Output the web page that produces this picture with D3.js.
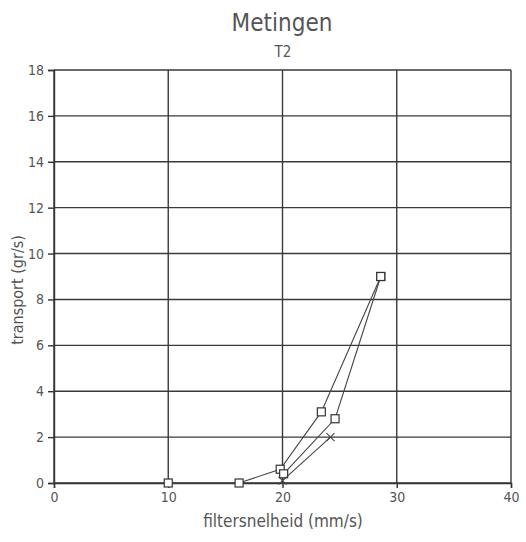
<!DOCTYPE html>
<html>
<head>
<meta charset="utf-8">
<script src="https://cdn.jsdelivr.net/npm/d3@7"></script>
<style>
  body { margin: 0; background: #fff; }
  text { font-family: "DejaVu Sans Condensed", "DejaVu Sans", sans-serif; font-stretch: condensed; font-weight: 300; fill: #555; }
</style>
</head>
<body>
<svg id="chart" width="526" height="542"></svg>
<script>
// data
var xTicks = [0, 10, 20, 30, 40];
var yTicks = [0, 2, 4, 6, 8, 10, 12, 14, 16, 18];
var serie1 = [[10, 0], [16.2, 0], [19.8, 0.6], [23.4, 3.1], [28.6, 9.0]];
var serie2 = [[20.1, 0.4], [24.6, 2.8], [28.6, 9.0]];
var serie3 = [[20, 0.1], [24.2, 2.0]];

var svg = d3.select("svg#chart");
var margin = { top: 70, right: 15, bottom: 59, left: 54 };
var width = +svg.attr("width") - margin.left - margin.right;
var height = +svg.attr("height") - margin.top - margin.bottom;
var g = svg.append("g").attr("transform", "translate(" + margin.left + "," + margin.top + ")");

var x = d3.scaleLinear().domain([0, 40]).range([0, width]);
var y = d3.scaleLinear().domain([0, 18]).range([height, 0]);

// Grid
g.append("g").selectAll("line").data(yTicks).enter().append("line")
    .attr("x1", 0).attr("x2", width)
    .attr("y1", (d) => y(d)).attr("y2", (d) => y(d))
    .attr("stroke", "#3a3a3a").attr("stroke-width", 1.4);
g.append("g").selectAll("line").data(xTicks).enter().append("line")
    .attr("y1", 0).attr("y2", height)
    .attr("x1", (d) => x(d)).attr("x2", (d) => x(d))
    .attr("stroke", "#3a3a3a").attr("stroke-width", 1.4);

// Axes
var xAxis = g.append("g")
    .attr("transform", "translate(0," + height + ")")
    .call(d3.axisBottom(x).tickValues(xTicks).tickSize(5).tickPadding(4));
var yAxis = g.append("g")
    .call(d3.axisLeft(y).tickValues(yTicks).tickSize(6).tickPadding(4));
[xAxis, yAxis].forEach(function(a) {
    a.select(".domain").attr("stroke", "#333").attr("stroke-width", 1.4);
    a.selectAll(".tick line").attr("stroke", "#333").attr("stroke-width", 1.4);
    a.selectAll(".tick text").style("font-size", "14px").attr("fill", "#555");
});

// Lines
var line = d3.line().x((d) => x(d[0])).y((d) => y(d[1]));
[serie1, serie2, serie3].forEach(function(s) {
    g.append("path").datum(s)
        .attr("d", line)
        .attr("fill", "none")
        .attr("stroke", "#444")
        .attr("stroke-width", 1.1);
});

// Square markers
g.append("g").selectAll("rect").data(serie1.concat(serie2)).enter().append("rect")
    .attr("x", (d) => x(d[0]) - 4).attr("y", (d) => y(d[1]) - 4)
    .attr("width", 8).attr("height", 8)
    .attr("fill", "#fff").attr("stroke", "#333").attr("stroke-width", 1.2);

// Cross markers
var cross = g.append("g").selectAll("g").data(serie3).enter().append("g")
    .attr("transform", (d) => "translate(" + x(d[0]) + "," + y(d[1]) + ")");
cross.append("line").attr("x1", -4).attr("y1", -4).attr("x2", 4).attr("y2", 4)
    .attr("stroke", "#444").attr("stroke-width", 1.1);
cross.append("line").attr("x1", -4).attr("y1", 4).attr("x2", 4).attr("y2", -4)
    .attr("stroke", "#444").attr("stroke-width", 1.1);

// Titles
svg.append("text").attr("x", 282).attr("y", 31)
    .attr("text-anchor", "middle").style("font-size", "24px").text("Metingen");
svg.append("text").attr("x", 283).attr("y", 57)
    .attr("text-anchor", "middle").style("font-size", "15px").text("T2");
svg.append("text").attr("x", 283).attr("y", 527)
    .attr("text-anchor", "middle").style("font-size", "17px").text("filtersnelheid (mm/s)");
svg.append("text")
    .attr("transform", "translate(23,290) rotate(-90)")
    .attr("text-anchor", "middle").style("font-size", "16px").text("transport (gr/s)");
</script>
</body>
</html>
